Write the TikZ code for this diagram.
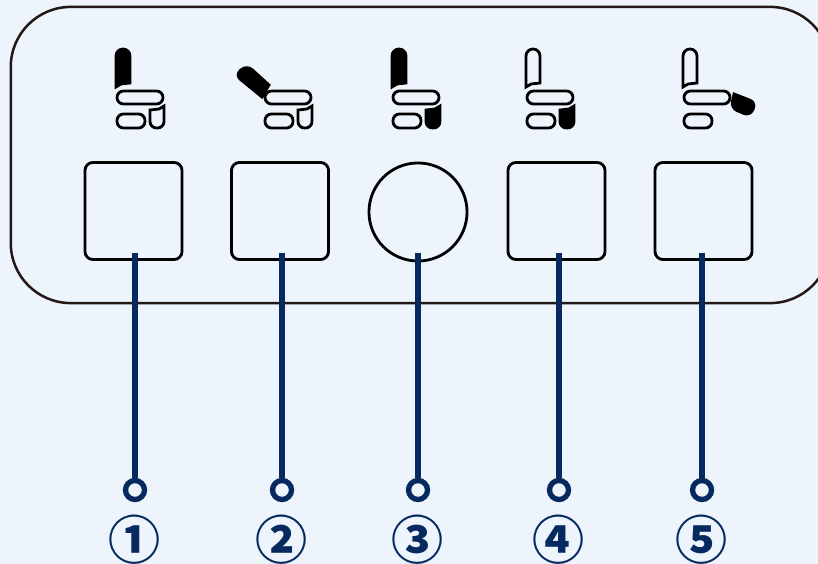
\documentclass[tikz,border=0pt]{standalone}
\usepackage{xcolor}
\usepackage{fontspec}
\newfontfamily\numfont{Noto Sans CJK SC}
\definecolor{panelbg}{HTML}{EDF4FC}
\definecolor{paneledge}{HTML}{231815}
\definecolor{leadnavy}{HTML}{062A60}

\tikzset{
    seatline/.style={draw=black, line width=0.028cm},
    pics/seat/.style n args={2}{code={
        % back rest, left out when it is drawn reclined
        \ifx#1n\else
        \path[seatline, fill=#1] [rounded corners=0.07cm] (0,39) -- (0,1) -- (14,1) [sharp corners] -- (14,35) -- (5,36) -- cycle;
        \fi
        % seat and lower cushion
        \draw[seatline, rounded corners=0.065cm] (1,43) rectangle (47,56);
        \draw[seatline, rounded corners=0.065cm] (1,66) rectangle (29,80);
        % leg rest, left out when it is drawn raised
        \ifx#2n\else
        \path[seatline, fill=#2] [rounded corners=0.065cm] (34,62) -- (34,80) -- (48,80) [sharp corners] -- (48,58) -- (43,61) -- cycle;
        \fi
    }}
}

\begin{document}
\begin{tikzpicture}[
    x=0.01cm, y=-0.01cm,
    panel/.style={rectangle, rounded corners=0.6cm, draw=paneledge, line width=0.025cm, minimum width=8.19cm, minimum height=2.96cm},
    button/.style={rectangle, rounded corners=0.08cm, draw=black, line width=0.028cm, minimum size=0.97cm, inner sep=0pt},
    knob/.style={circle, draw=black, line width=0.028cm, minimum size=0.98cm, inner sep=0pt},
    ring/.style={circle, draw=leadnavy, line width=0.053cm, minimum size=0.19cm, inner sep=0pt},
    lead/.style={draw=leadnavy, line width=0.053cm},
    num/.style={text=leadnavy, font=\fontsize{14.8}{15}\numfont\bfseries, inner sep=0pt}
]

\useasboundingbox (0,0) rectangle (818,564);
\fill[panelbg] (0,0) rectangle (818,564);

\node[panel] (board) at (420.5,155) {};

% icons
\pic at (116,48) {seat={black}{panelbg}};
\pic at (264,48) {seat={n}{panelbg}};
\path[seatline, fill=black, rounded corners=0.07cm] (269,85) -- (247,65) -- (235,75) [sharp corners] -- (262,97) -- cycle;
\pic at (392,48) {seat={black}{black}};
\pic at (526,48) {seat={panelbg}{black}};
\pic at (683,48) {seat={panelbg}{n}};
\path[seatline, fill=black, rounded corners=0.065cm] (734,94) -- (756,102.5) -- (750,116) -- (731,108) [sharp corners] -- cycle;

% buttons
\node[button] (btn1) at (133.5,211) {};
\node[button] (btn2) at (280,211) {};
\node[knob] (btn3) at (418,212) {};
\node[button] (btn4) at (556.5,211) {};
\node[button] (btn5) at (703.5,211) {};

% leader lines and numbers
\foreach \n/\x/\mark in {1/135/①, 2/282/②, 3/418/③, 4/559/④, 5/702/⑤} {
    \coordinate (tap\n) at (\x,253);
    \node[ring] (ring\n) at (\x,490) {};
    \node[num] (num\n) at (\x,540) {\mark};
    \draw[lead] (tap\n) -- (ring\n);
}

\end{tikzpicture}
\end{document}
